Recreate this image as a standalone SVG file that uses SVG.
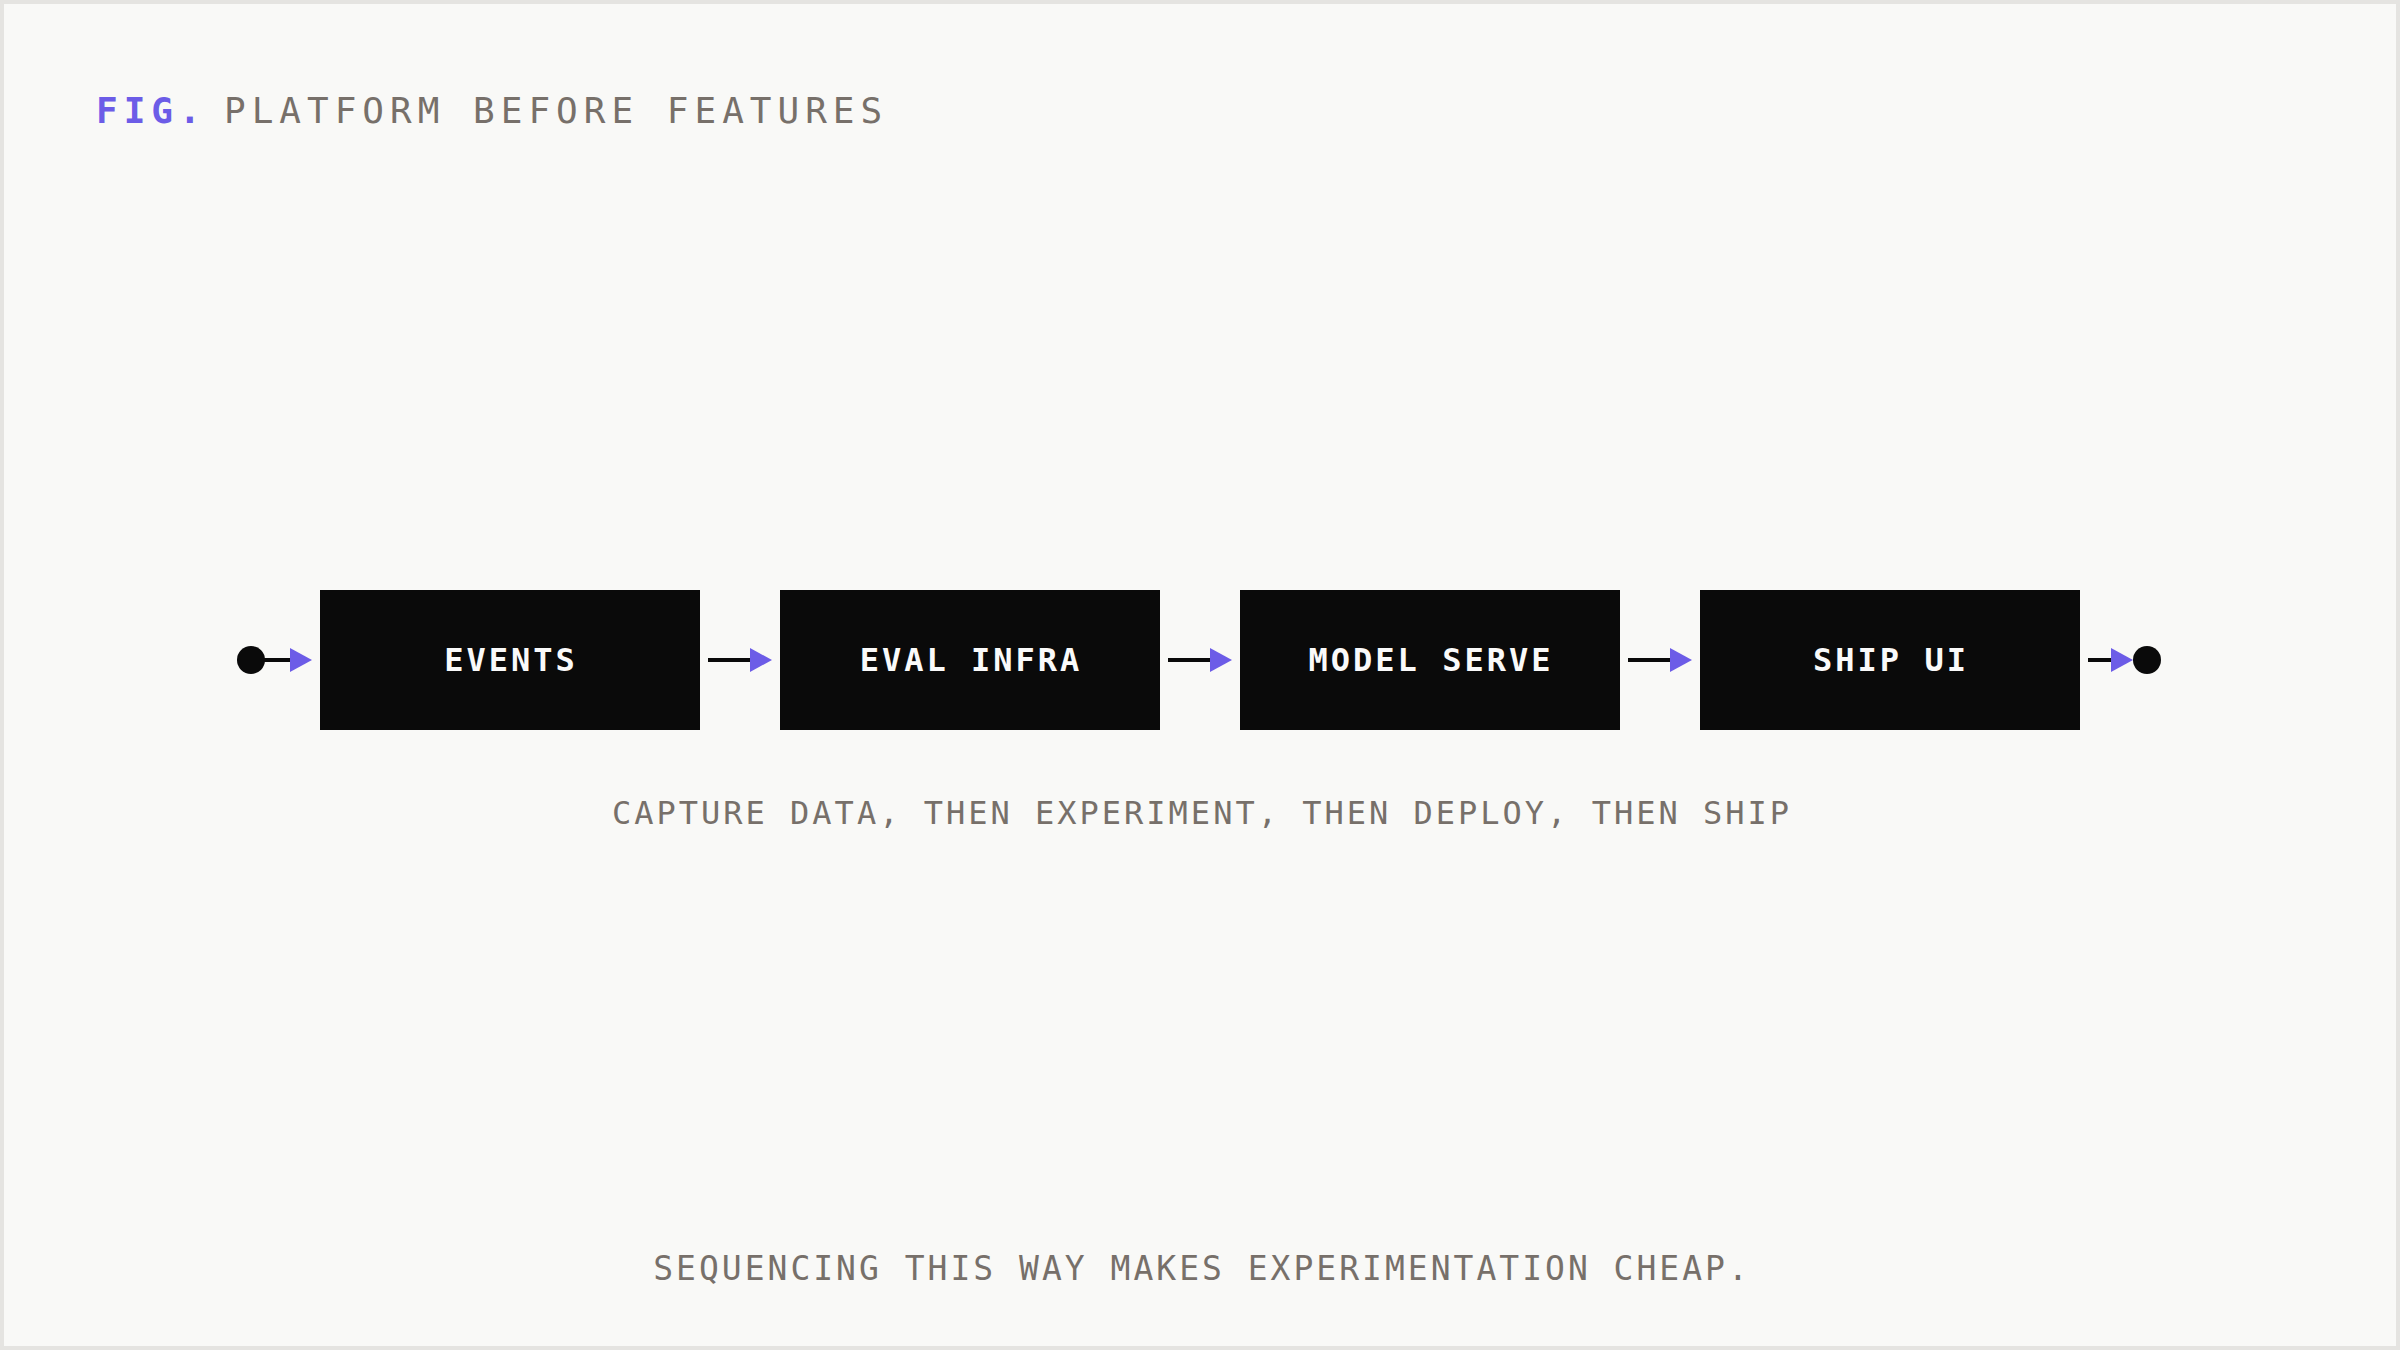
<svg xmlns="http://www.w3.org/2000/svg" width="2400" height="1350" viewBox="0 0 2400 1350">
  <defs>
    <style>
      .bg { fill: #f9f9f7; stroke: #e5e4e1; stroke-width: 4; }
      .node rect { fill: #0a0a0a; }
      .node text { fill: #fafafa; font-family: "DejaVu Sans Mono", "Liberation Mono", monospace; font-size: 32px; font-weight: 600; letter-spacing: 3px; text-anchor: middle; }
      .title { fill: #77706a; font-family: "DejaVu Sans Mono", "Liberation Mono", monospace; font-size: 36px; letter-spacing: 6px; }
      .fig { fill: #6c5ce7; font-weight: 700; }
      .note { fill: #77706a; font-family: "DejaVu Sans Mono", "Liberation Mono", monospace; font-size: 32px; letter-spacing: 3px; text-anchor: middle; }
      .conn line { stroke: #0a0a0a; stroke-width: 4; }
      .dot { fill: #0a0a0a; }
    </style>
    <marker id="arrow" markerUnits="userSpaceOnUse" markerWidth="22" markerHeight="24" refX="0" refY="12" orient="auto" overflow="visible">
      <path d="M0,0 L22,12 L0,24 Z" fill="#6c5ce7"/>
    </marker>
  </defs>

  <rect class="bg" x="2" y="2" width="2396" height="1346"/>

  <text class="title" x="96" y="123"><tspan class="fig">FIG.</tspan><tspan x="224">PLATFORM BEFORE FEATURES</tspan></text>

  <g id="connectors" class="conn">
    <circle class="dot" cx="251" cy="660" r="14"/>
    <line x1="251" y1="660" x2="290" y2="660" marker-end="url(#arrow)"/>
    <line x1="708" y1="660" x2="750" y2="660" marker-end="url(#arrow)"/>
    <line x1="1168" y1="660" x2="1210" y2="660" marker-end="url(#arrow)"/>
    <line x1="1628" y1="660" x2="1670" y2="660" marker-end="url(#arrow)"/>
    <line x1="2088" y1="660" x2="2111" y2="660" marker-end="url(#arrow)"/>
    <circle class="dot" cx="2147" cy="660" r="14"/>
  </g>

  <g id="node-events" class="node">
    <rect x="320" y="590" width="380" height="140"/>
    <text x="511" y="671">EVENTS</text>
  </g>
  <g id="node-eval-infra" class="node">
    <rect x="780" y="590" width="380" height="140"/>
    <text x="971" y="671">EVAL INFRA</text>
  </g>
  <g id="node-model-serve" class="node">
    <rect x="1240" y="590" width="380" height="140"/>
    <text x="1431" y="671">MODEL SERVE</text>
  </g>
  <g id="node-ship-ui" class="node">
    <rect x="1700" y="590" width="380" height="140"/>
    <text x="1891" y="671">SHIP UI</text>
  </g>

  <text class="note" x="1202" y="824">CAPTURE DATA, THEN EXPERIMENT, THEN DEPLOY, THEN SHIP</text>
  <text class="note" x="1202" y="1280" style="font-size:33px">SEQUENCING THIS WAY MAKES EXPERIMENTATION CHEAP.</text>
</svg>
